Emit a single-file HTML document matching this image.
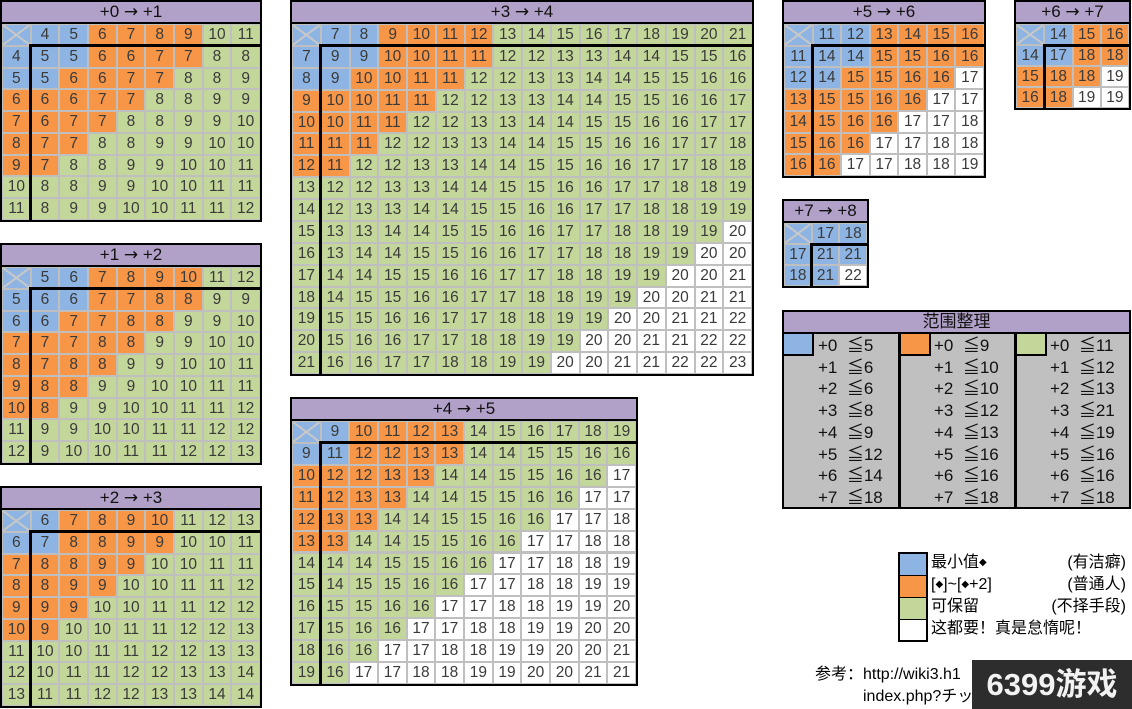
<!DOCTYPE html>
<html><head><meta charset="utf-8">
<style>
html,body{margin:0;padding:0;background:#fff;}
body{width:1132px;height:709px;position:relative;overflow:hidden;font-family:"Liberation Sans","Noto Sans CJK SC",sans-serif;}
.tbl{position:absolute;background:#bfbfbf;border:2px solid #000;box-sizing:border-box;}
.ttl{position:absolute;left:0;top:0;right:0;height:20px;background:#b1a0c7;border-bottom:2px solid #000;text-align:center;font-size:17px;line-height:20px;color:#111;white-space:nowrap;overflow:visible;}
.arr{font-family:"DejaVu Sans",sans-serif;font-size:17px;}
.c{position:absolute;text-align:center;font-size:15.5px;color:#3a3a3a;}
.vl{position:absolute;background:#000;}
.abs{position:absolute;}
.dm{font-family:"DejaVu Sans",sans-serif;font-size:10px;vertical-align:2px;}
</style></head><body>
<script>
// color thresholds summary (范围整理)
const levels=['+0','+1','+2','+3','+4','+5','+6','+7','+8'];
const blueMax=[5,6,6,8,9,12,14,18];
const orangeMax=[9,10,10,12,13,16,16,18];
const greenMax=[11,12,13,21,19,16,16,18];

// table data
const tA_cols=[4,5,6,7,8,9,10,11];
const tA_vals=[[5,5,6,6,7,7,8,8],[5,6,6,7,7,8,8,9],[6,6,7,7,8,8,9,9],[6,7,7,8,8,9,9,10],[7,7,8,8,9,9,10,10],[7,8,8,9,9,10,10,11],[8,8,9,9,10,10,11,11],[8,9,9,10,10,11,11,12]];
const tA_thr=[5,7,99];
const tB_cols=[5,6,7,8,9,10,11,12];
const tB_vals=[[6,6,7,7,8,8,9,9],[6,7,7,8,8,9,9,10],[7,7,8,8,9,9,10,10],[7,8,8,9,9,10,10,11],[8,8,9,9,10,10,11,11],[8,9,9,10,10,11,11,12],[9,9,10,10,11,11,12,12],[9,10,10,11,11,12,12,13]];
const tB_thr=[6,8,99];
const tC_cols=[6,7,8,9,10,11,12,13];
const tC_vals=[[7,8,8,9,9,10,10,11],[8,8,9,9,10,10,11,11],[8,9,9,10,10,11,11,12],[9,9,10,10,11,11,12,12],[9,10,10,11,11,12,12,13],[10,10,11,11,12,12,13,13],[10,11,11,12,12,13,13,14],[11,11,12,12,13,13,14,14]];
const tC_thr=[7,9,99];
const tD_cols=[7,8,9,10,11,12,13,14,15,16,17,18,19,20,21];
const tD_vals=[
[9,9,10,10,11,11,12,12,13,13,14,14,15,15,16],
[9,10,10,11,11,12,12,13,13,14,14,15,15,16,16],
[10,10,11,11,12,12,13,13,14,14,15,15,16,16,17],
[10,11,11,12,12,13,13,14,14,15,15,16,16,17,17],
[11,11,12,12,13,13,14,14,15,15,16,16,17,17,18],
[11,12,12,13,13,14,14,15,15,16,16,17,17,18,18],
[12,12,13,13,14,14,15,15,16,16,17,17,18,18,19],
[12,13,13,14,14,15,15,16,16,17,17,18,18,19,19],
[13,13,14,14,15,15,16,16,17,17,18,18,19,19,20],
[13,14,14,15,15,16,16,17,17,18,18,19,19,20,20],
[14,14,15,15,16,16,17,17,18,18,19,19,20,20,21],
[14,15,15,16,16,17,17,18,18,19,19,20,20,21,21],
[15,15,16,16,17,17,18,18,19,19,20,20,21,21,22],
[15,16,16,17,17,18,18,19,19,20,20,21,21,22,22],
[16,16,17,17,18,18,19,19,20,20,21,21,22,22,23]];
const tD_thr=[9,11,19];
const tE_cols=[9,10,11,12,13,14,15,16,17,18,19];
const tE_vals=[
[11,12,12,13,13,14,14,15,15,16,16],
[12,12,13,13,14,14,15,15,16,16,17],
[12,13,13,14,14,15,15,16,16,17,17],
[13,13,14,14,15,15,16,16,17,17,18],
[13,14,14,15,15,16,16,17,17,18,18],
[14,14,15,15,16,16,17,17,18,18,19],
[14,15,15,16,16,17,17,18,18,19,19],
[15,15,16,16,17,17,18,18,19,19,20],
[15,16,16,17,17,18,18,19,19,20,20],
[16,16,17,17,18,18,19,19,20,20,21],
[16,17,17,18,18,19,19,20,20,21,21]];
const tE_thr=[11,13,16];
const tF_cols=[11,12,13,14,15,16];
const tF_vals=[[14,14,15,15,16,16],[14,15,15,16,16,17],[15,15,16,16,17,17],[15,16,16,17,17,18],[16,16,17,17,18,18],[16,17,17,18,18,19]];
const tF_thr=[14,16,16];
const tG_cols=[14,15,16];
const tG_vals=[[17,18,18],[18,18,19],[18,19,19]];
const tG_thr=[17,18,18];
const tH_cols=[17,18];
const tH_vals=[[21,21],[21,22]];
const tH_thr=[21,21,21];

const COL={b:'#8db4e2',o:'#f79646',g:'#c4d79b',w:'#ffffff'};
function catOf(v,thr){return v<=thr[0]?'b':v<=thr[1]?'o':v<=thr[2]?'g':'w';}

function build(name,lvl,x,y,w,h,cols,vals,thr){
  const t=document.createElement('div');
  t.className='tbl';
  
  
  t.style.cssText=`left:${x}px;top:${y}px;width:${w}px;height:${h}px;`;
  const ttl=document.createElement('div');
  ttl.className='ttl';
  
  
  ttl.innerHTML=levels[lvl]+' <span class="arr">\u2192</span> '+levels[lvl+1];
  t.appendChild(ttl);
  const n=cols.length, iw=w-4, ih=h-4-22;
  const cw=iw/(n+1), rh=ih/(n+1);
  const hthr=[blueMax[lvl],orangeMax[lvl],greenMax[lvl]];
  function cell(i,j,txt,bg,nm){
    const d=document.createElement('div');
    d.className='c';
    
    
    const L=i*cw+1, T=22+j*rh+1, W=cw-2, H=rh-2;
    d.style.cssText=`left:${L}px;top:${T}px;width:${W}px;height:${H}px;line-height:${H}px;background:${bg};`;
    d.textContent=txt;
    t.appendChild(d);
    return d;
  }
  const corner=cell(0,0,'',COL.b,'corner-cell');
  corner.innerHTML=`<svg width="100%" height="100%" viewBox="0 0 10 10" preserveAspectRatio="none" style="display:block"><path d="M0 0L10 10M10 0L0 10" stroke="#c8c8c8" vector-effect="non-scaling-stroke" style="stroke-width:2px"/></svg>`;
  for(let i=0;i<n;i++){
    cell(i+1,0,cols[i],COL[catOf(cols[i],hthr)],'column-header');
    cell(0,i+1,cols[i],COL[catOf(cols[i],hthr)],'row-header');
  }
  for(let r=0;r<n;r++)for(let c=0;c<n;c++){
    cell(c+1,r+1,vals[r][c],COL[catOf(vals[r][c],thr)],'value-cell');
  }
  const v=document.createElement('div');v.className='vl';
  
  
  v.style.cssText=`left:${cw-1.5}px;top:${22+rh-1.5}px;width:3px;height:${ih-rh+1.5}px;`;
  t.appendChild(v);
  const hz=document.createElement('div');hz.className='vl';
  
  
  hz.style.cssText=`left:${cw-1.5}px;top:${22+rh-1.5}px;width:${iw-cw+1.5}px;height:3px;`;
  t.appendChild(hz);
  document.body.appendChild(t);
}
build('table-plus0-to-plus1',0,0,0,262,222,tA_cols,tA_vals,tA_thr);
build('table-plus1-to-plus2',1,0,243,262,222,tB_cols,tB_vals,tB_thr);
build('table-plus2-to-plus3',2,0,486,262,222,tC_cols,tC_vals,tC_thr);
build('table-plus3-to-plus4',3,290,0,464,376,tD_cols,tD_vals,tD_thr);
build('table-plus4-to-plus5',4,290,397,348,289,tE_cols,tE_vals,tE_thr);
build('table-plus5-to-plus6',5,782,0,204,178,tF_cols,tF_vals,tF_thr);
build('table-plus6-to-plus7',6,1014,0,117,110,tG_cols,tG_vals,tG_thr);
build('table-plus7-to-plus8',7,782,199,87,89,tH_cols,tH_vals,tH_thr);

// summary table
(function(){
  const t=document.createElement('div');
  t.className='tbl';
  
  
  t.style.cssText='left:782px;top:310px;width:349px;height:199px;background:#c0c0c0;';
  const ttl=document.createElement('div');
  ttl.className='ttl';
  
  
  ttl.textContent='范围整理';
  t.appendChild(ttl);
  const sets=[blueMax,orangeMax,greenMax], sw=[COL.b,COL.o,COL.g], colX=[0,116,232];
  for(let k=0;k<3;k++){
    if(k>0){const d=document.createElement('div');d.className='vl';
      
      
      d.style.cssText=`left:${colX[k]-2}px;top:22px;width:3px;height:173px;`;t.appendChild(d);}
    const s=document.createElement('div');s.className='abs';
    
    
    s.style.cssText=`left:${colX[k]+(k?1:0)}px;top:22px;width:28px;height:20px;background:${sw[k]};border-right:2px solid #000;border-bottom:2px solid #000;`;
    t.appendChild(s);
    for(let i=0;i<8;i++){
      const r=document.createElement('div');r.className='abs';
      
      
      r.style.cssText=`left:${colX[k]+34}px;top:${24+i*21.7}px;font-size:17px;line-height:20px;color:#111;white-space:pre;`;
      r.textContent=levels[i]+'  \u2266'+sets[k][i];
      t.appendChild(r);
    }
  }
  document.body.appendChild(t);
})();
</script>

<div class="abs" style="left:898px;top:552px;width:234px;height:90px;">
  <div class="abs" style="left:0;top:0;width:26px;height:86px;border:2px solid #000;">
    <div class="abs" style="left:0;top:0;width:26px;height:21px;background:#8db4e2;border-bottom:1px solid #000;"></div>
    <div class="abs" style="left:0;top:22px;width:26px;height:21px;background:#f79646;border-bottom:1px solid #000;"></div>
    <div class="abs" style="left:0;top:44px;width:26px;height:21px;background:#c4d79b;border-bottom:1px solid #000;"></div>
    <div class="abs" style="left:0;top:66px;width:26px;height:20px;background:#fff;"></div>
  </div>
  <div class="abs" style="left:33px;top:1px;font-size:16px;line-height:20px;">最小值<span class="dm">◆</span></div>
  <div class="abs" style="right:6px;top:1px;font-size:16px;line-height:20px;">(有洁癖)</div>
  <div class="abs" style="left:33px;top:23px;font-size:16px;line-height:20px;">[<span class="dm">◆</span>]~[<span class="dm">◆</span>+2]</div>
  <div class="abs" style="right:6px;top:23px;font-size:16px;line-height:20px;">(普通人)</div>
  <div class="abs" style="left:33px;top:45px;font-size:16px;line-height:20px;">可保留</div>
  <div class="abs" style="right:6px;top:45px;font-size:16px;line-height:20px;">(不择手段)</div>
  <div class="abs" style="left:33px;top:67px;font-size:16px;line-height:20px;">这都要！真是怠惰呢！</div>
</div>

<div class="abs" style="left:815px;top:664px;font-size:16px;line-height:22px;white-space:nowrap;">参考：http://wiki3.h1</div>
<div class="abs" style="left:863px;top:686px;font-size:16px;line-height:22px;white-space:nowrap;">index.php?チッ</div>
<div class="abs" style="left:972px;top:660px;width:160px;height:49px;background:#2d2d2d;color:#f2f2f2;font-weight:bold;font-size:31px;line-height:49px;text-align:center;">6399游戏</div>
</body></html>
